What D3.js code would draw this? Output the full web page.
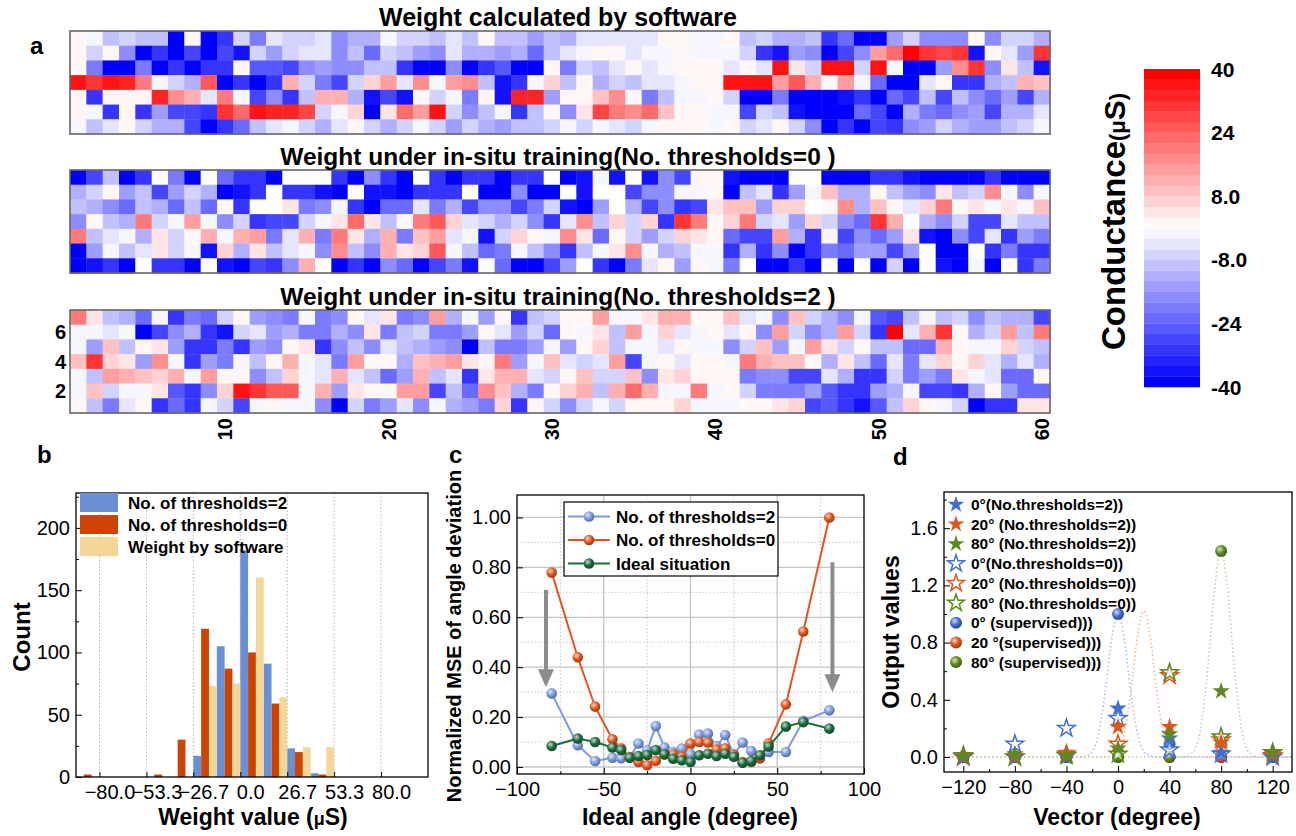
<!DOCTYPE html>
<html><head><meta charset="utf-8">
<script src="https://cdn.jsdelivr.net/npm/d3@7"></script>
<style>body{margin:0;background:#fff;} svg{display:block;font-family:"Liberation Sans",Arial,sans-serif;}</style>
</head><body><svg id="chart" width="1296" height="836"></svg>
<script>
// ---------------- DATA ----------------
const hmCols = d3.range(1, 61);
const hmRows = [7, 6, 5, 4, 3, 2, 1]; // top to bottom
const hmTitles = ["Weight calculated by software", "Weight under in-situ training(No. thresholds=0 )", "Weight under in-situ training(No. thresholds=2 )"];
// rows listed top (7) to bottom (1); 0 = blank cell
const hmSoftware = [
 [1,-1,-9,-6,-9,-9,-38,1,-38,-32,-6,-20,-4,-6,-6,-4,-18,-12,-12,-1,-6,-6,-9,-3,-9,1,-9,-9,-15,-9, -12,-4,-4,-4,-4,-4,1,1,-1,-1,1,-9,-6,-12,-12,-9,-30,-22,-38,-38,-15,-6,-18,-18,-18,1,-18,-6,-6,-12],
 [1,-6,1,-18,-38,-30,-38,-27,-38,-27,-35,-6,-14,-6,-4,-4,-18,-9,-22,-6,-9,-14,-18,-3,-12,-12,-14,-12,-22,-9, -3,-1,1,1,-3,-1,-1,1,-1,-1,-1,-6,-32,-35,-14,-18,-38,-27,-18,14,22,38,30,27,30,-35,1,-4,-14,31],
 [1,-20,-38,-38,-20,-38,-32,-38,-32,-30,1,-25,-25,-27,-18,-14,-18,-18,-9,-9,-30,-38,-38,-18,-38,-30,-25,-38,-38,1, -20,-6,-9,-4,1,-3,-1,1,1,1,-4,1,-3,37,4,-6,37,37,-6,37,-1,-38,-38,-14,18,30,-18,4,-9,-35],
 [37,30,37,34,20,-1,-6,-12,25,-38,-30,-38,-30,12,-6,-20,-27,-6,6,14,-3,18,-1,14,18,-9,-35,-30,-1,6, -9,1,-12,-6,-9,-3,-3,-1,1,1,37,37,37,14,25,12,1,14,-1,-22,-38,-38,-3,1,-30,-30,-12,-9,12,10],
 [1,-30,1,1,1,32,18,12,-3,20,-1,-27,-18,-32,-9,12,12,-12,-35,-27,-35,1,-6,-1,-20,1,-35,34,32,-14, 1,1,10,18,1,-20,-9,-1,-1,1,-6,-38,-38,-20,-38,-38,-38,-35,-30,-38,-22,-27,-9,-27,-9,-18,-22,-14,-27,-12],
 [1,-1,-32,1,-30,-14,-28,-28,-32,30,22,37,34,32,27,-6,-1,6,-38,4,22,14,37,-6,-18,-9,-1,-32,-9,1, -18,4,27,20,18,22,10,1,1,-1,-1,-27,-6,-9,-35,-38,-38,-38,-22,-27,-38,-12,-20,-22,-18,-14,-27,-12,-12,-4],
 [-1,-9,-3,1,-6,-12,-12,-27,-38,-30,-22,-9,-3,-1,-6,-12,-3,1,-6,-12,-6,-1,-6,-15,-6,-12,-14,-9,-9,-6, -1,-6,-1,-4,-6,-1,1,1,1,-1,1,-6,-4,1,-6,-18,-38,-30,-38,-27,-30,-18,-14,-6,-12,-14,-14,-9,-6,-1]
];
const hmThr0 = [
 [-40,-27,-9,-40,-30,0,-20,-40,0,-22,-32,-30,-38,0,0,0,-30,-38,-18,-32,-38,0,-30,-40,-30,-32,-38,-32,-32,0, -40,-35,-1,-35,0,-35,-18,-27,1,1,-35,-40,-40,-40,0,0,-40,-40,-40,-32,-30,-35,-40,-40,-40,-38,-30,-40,-40,-40],
 [-12,-6,1,-14,-9,-27,-14,-6,-12,-40,-35,-30,0,-32,-30,-35,-40,0,-35,-35,-40,-32,-30,-32,0,-40,-38,-18,-40,-40, 0,-35,0,0,-27,-18,-18,-1,-1,1,-38,-9,-4,-30,-14,-1,10,-12,-12,1,-9,-14,-18,4,-9,-6,18,-1,-18,-1],
 [-9,-12,-18,-22,-9,-12,-22,-9,-22,1,-32,0,0,4,-20,-18,-1,-30,-40,-22,-22,-4,-20,-12,-27,-18,-18,-28,-20,-6, -35,-40,-14,0,-12,-27,-18,-30,-27,4,10,10,-14,6,6,0,1,18,-12,10,1,-4,6,20,1,4,-1,4,-1,10],
 [-18,1,-9,-12,20,-6,-1,14,-1,-18,-6,-30,-27,-27,-6,-1,4,22,4,-9,1,20,25,6,-4,-6,-12,-6,-18,-30, -4,18,-9,6,-6,6,-30,30,20,1,6,20,-6,-4,-14,6,-6,-18,-22,30,12,0,-12,-18,-6,-27,-27,-4,-9,-9],
 [20,-9,-4,-1,-12,4,-6,1,12,-1,12,14,-20,-4,12,-20,19,4,-12,12,-19,10,14,-4,-1,-35,-6,6,1,-1, 18,4,-22,1,-6,-14,-6,6,4,1,-22,-27,-27,14,-12,-30,-1,-27,-18,-22,-14,4,-35,-38,-18,-28,-4,-32,-14,-20],
 [-40,-14,-1,-9,-4,4,-6,-1,-35,6,-12,4,-9,-4,-1,-18,18,-9,-18,12,4,6,25,-1,-9,-22,-20,-1,-9,-18, -30,-9,-1,4,18,-1,-12,-9,-1,-1,-30,-12,-32,-18,-40,-32,-20,-22,-14,-14,-27,-14,0,-40,-40,0,-30,-19,-32,-32],
 [-40,-35,-32,-38,0,-32,-32,-40,0,-35,-40,-27,-32,-18,12,0,-40,-32,-40,-18,-22,-40,-27,-20,-35,0,-22,-40,-38,-28, -14,0,-32,-40,-20,-4,1,-14,1,-1,-20,0,-40,-40,-30,-40,0,-38,0,-40,-6,-40,0,-35,-40,-1,-38,0,-30,-20]
];
const hmThr2 = [
 [19,4,-9,-12,-22,-1,-32,-20,-22,-6,1,-14,-18,-20,-1,-20,-18,1,-4,4,-20,-18,14,-12,-1,-14,1,-32,-9,-6, 1,1,14,-1,-1,4,12,12,1,1,10,-4,-1,-18,10,-6,-12,-18,-1,-25,-28,-9,-1,-9,-6,-18,-9,-12,-12,-27],
 [-1,-1,-4,-1,-38,-27,-18,-12,-30,-35,-6,-4,-14,-12,-20,-20,-12,-18,4,-20,-9,-6,-20,-19,-14,1,-4,-14,-6,-22, 1,-1,4,-9,14,-1,6,-4,-1,1,-4,1,-18,14,-6,-18,-12,15,-6,-30,38,-4,12,30,1,-12,-6,14,-9,19],
 [-1,-14,10,-9,1,4,-14,-30,-30,-20,-30,-14,-18,1,4,-30,-18,-9,-18,-4,-9,-12,-14,-18,-38,-9,-20,-20,-14,-1, -15,1,6,-9,-1,-1,-4,1,-1,-1,-18,-6,10,-14,-1,14,4,-6,1,-9,-9,-22,-22,12,1,-1,-1,6,-6,-9],
 [10,30,6,4,-14,18,-1,-32,-14,-20,-1,-9,1,12,-1,-4,-19,14,1,1,-12,10,12,14,4,1,20,-14,-1,10, -4,-6,-4,15,-27,-1,1,-4,1,1,-1,20,12,10,10,1,-12,4,-9,-22,-4,-20,-4,6,1,6,-4,-12,-4,-12],
 [-1,-9,14,12,10,6,12,-1,14,1,1,-18,-9,6,-1,-4,12,-4,-9,-22,-14,12,-9,-4,-30,4,12,12,-4,-6, 1,10,-6,-6,10,-18,4,6,1,1,1,-20,-18,-18,-27,-27,-4,-12,-30,-32,-6,-20,-14,-20,4,-1,-4,-22,-22,1],
 [-1,10,-6,-1,-1,4,-25,-31,-18,6,35,30,25,25,-1,12,-14,4,1,1,14,14,-27,-9,-22,18,10,-12,-19,1, 6,12,-9,12,22,12,-1,-1,20,-1,1,-6,-20,-20,-20,-14,-25,-30,-30,-14,-12,-1,-27,-27,-32,-12,1,-14,-22,-22],
 [1,-9,-20,-4,1,-32,-22,-32,-1,-6,-27,-1,1,-1,-1,-18,-38,-6,-20,-14,-4,-18,-1,-12,-14,-20,6,-32,1,-6, -18,-6,-1,-6,1,1,1,6,-1,-1,-1,1,1,4,6,-27,-25,-30,-35,-25,-9,6,1,-1,-6,-38,-30,-30,4,4]
];
const hmYTicks = [2, 4, 6];
const hmXTicks = [10, 20, 30, 40, 50, 60];
const cbTicks = [40, 24, 8, -8, -24, -40];
const cbLabels = ["40", "24", "8.0", "-8.0", "-24", "-40"];

// panel b
const histBinStart = [-93.33,-80,-66.67,-53.33,-40,-26.67,-13.33,0,13.33,26.67,40,53.33,66.67,80,93.33];
const histThr2 = [0,0,0,0,0,17,105,182,91,23,3,0,0,0,0];
const histThr0 = [2,0,0,2,30,119,87,100,59,20,2,0,0,0,0];
const histSoft = [0,0,0,0,0,73,75,160,64,24,24,0,0,0,0];
const histNames = ["No. of thresholds=2", "No. of thresholds=0", "Weight by software"];
const histXTicks = [-80, -53.3, -26.7, 0, 26.7, 53.3, 80];
const histYTicks = [0, 50, 100, 150, 200];

// panel c
const cAngles = [-80,-65,-55,-45,-40,-35,-30,-25,-20,-15,-10,-5,0,5,10,15,20,25,30,35,40,45,55,65,80];
const cThr2 = [0.295,0.087,0.024,0.037,0.035,0.040,0.094,0.067,0.164,0.078,0.060,0.074,0.051,0.130,0.134,0.084,0.128,0.050,0.098,0.064,0.035,0.060,0.060,0.185,0.227];
const cThr0 = [0.779,0.440,0.242,0.111,0.075,0.040,0.020,0.007,0.025,0.050,0.050,0.040,0.094,0.100,0.098,0.070,0.075,0.050,0.020,0.020,0.035,0.095,0.251,0.543,1.000];
const cIdeal = [0.084,0.114,0.100,0.078,0.068,0.037,0.044,0.048,0.068,0.051,0.033,0.027,0.020,0.047,0.053,0.044,0.053,0.041,0.017,0.024,0.047,0.082,0.162,0.180,0.154];
const cNames = ["No. of thresholds=2", "No. of thresholds=0", "Ideal situation"];
const cArrowX = [-83.3, 81.8], cArrowFrom = [0.71, 0.82], cArrowTo = [0.32, 0.30];

// panel d
const dVectors = [-120,-80,-40,0,40,80,120];
const d0Thr2  = [0,0,0,0.34,0.13,0.03,0];
const d20Thr2 = [0.01,0.01,0.03,0.21,0.21,0.10,0.02];
const d80Thr2 = [0.01,0.02,0.01,0.06,0.16,0.46,0.03];
const d0Thr0  = [0,0.09,0.20,0.27,0.05,0.02,0];
const d20Thr0 = [0,0,0.02,0.09,0.57,0.12,0.01];
const d80Thr0 = [0.01,0,0.01,0.02,0.59,0.14,0.03];
const d0Sup  = [0,0,0,1.00,0.09,0,0];
const d20Sup = [0,0,0,0,0,0,0];
const d80Sup = [0,0,0,0,0,1.44,0];
const curve0X  = [-135,-30,-22,-16,-10,-5,0,5,10,16,22,30,135];
const curve0Y  = [0,0,0.02,0.13,0.45,0.82,1.0,0.82,0.45,0.13,0.02,0,0];
const curve20X = [-135,-10,-2,4,10,15,20,25,30,36,42,50,135];
const curve20Y = [0,0,0.02,0.13,0.46,0.84,1.02,0.84,0.46,0.13,0.02,0,0];
const curve80X = [-135,50,58,64,70,75,80,85,90,96,102,110,135];
const curve80Y = [0,0,0.03,0.19,0.65,1.18,1.44,1.18,0.65,0.19,0.03,0,0];
const dNames = ["0°(No.thresholds=2))","20° (No.thresholds=2))","80° (No.thresholds=2))","0°(No.thresholds=0))","20° (No.thresholds=0))","80° (No.thresholds=0))","0° (supervised)))","20 °(supervised)))","80° (supervised)))"];
const dXTicks = [-120,-80,-40,0,40,80,120];
const dYTicks = [0,0.4,0.8,1.2,1.6];

// ---------------- DRAW ----------------
const svg = d3.select("#chart");
const defs = svg.append("defs");
const FONT = '"Liberation Sans", Arial, sans-serif';

function txt(g, x, y, s, size, opts = {}) {
  return g.append("text").attr("x", x).attr("y", y).text(s)
    .attr("font-size", size).attr("font-weight", opts.bold ? "bold" : "normal")
    .attr("text-anchor", opts.anchor || "start").attr("fill", "#000");
}

// color levels
const cbMin = -40, cbMax = 40, nLevels = 30, step = (cbMax - cbMin) / nLevels;
const levelColors = d3.range(nLevels).map(i => {
  const vc = cbMin + (i + 0.5) * step;
  const t = Math.min(1, Math.abs(vc) / (cbMax - step / 2));
  const c = Math.round(255 * (1 - t));
  return vc < 0 ? d3.rgb(c, c, 255).formatHex() : d3.rgb(255, c, c).formatHex();
});
const colorQ = d3.scaleQuantize().domain([cbMin, cbMax]).range(levelColors);
const cellColor = v => v === 0 ? "#ffffff" : colorQ(v);

// heatmaps
const hmTops = [31, 170, 310], hmH = 103;
const hx = d3.scaleBand().domain(hmCols).range([70, 1050]);
[hmSoftware, hmThr0, hmThr2].forEach((data, k) => {
  const top = hmTops[k];
  const hy = d3.scaleBand().domain(hmRows).range([top, top + hmH]);
  const g = svg.append("g");
  const cells = data.flatMap((row, i) => row.map((v, j) => ({ r: hmRows[i], c: hmCols[j], v })));
  g.selectAll("rect").data(cells).join("rect")
    .attr("x", d => hx(d.c)).attr("y", d => hy(d.r))
    .attr("width", hx.bandwidth() + 0.4).attr("height", hy.bandwidth() + 0.4)
    .attr("fill", d => cellColor(d.v));
  g.append("rect").attr("x", 70).attr("y", top).attr("width", 980).attr("height", hmH)
    .attr("fill", "none").attr("stroke", "#666").attr("stroke-width", 1.6);
  txt(svg, 558, top - 5, hmTitles[k], k === 0 ? 25 : 24.5, { bold: true, anchor: "middle" });
  if (k === 2) {
    hmYTicks.forEach(r => txt(svg, 66, hy(r) + hy.bandwidth() / 2, r, 20, { bold: true, anchor: "end" }).attr("dy", "0.36em"));
    hmXTicks.forEach(c => {
      svg.append("text").attr("transform", `translate(${hx(c) + hx.bandwidth() / 2},${top + hmH + 5}) rotate(-90)`)
        .attr("text-anchor", "end").attr("dy", "0.36em").attr("font-size", 20).attr("font-weight", "bold").text(c);
    });
  }
});
txt(svg, 30, 54, "a", 24, { bold: true });

// colorbar
const cbY = d3.scaleLinear().domain([cbMin, cbMax]).range([387, 69]);
const cbG = svg.append("g");
cbG.selectAll("rect").data(levelColors).join("rect")
  .attr("x", 1144).attr("width", 56)
  .attr("y", (d, i) => cbY(cbMin + (i + 1) * step))
  .attr("height", (d, i) => cbY(cbMin + i * step) - cbY(cbMin + (i + 1) * step) + 0.3)
  .attr("fill", d => d);
cbTicks.forEach((v, i) => txt(svg, 1211, cbY(v), cbLabels[i], 21, { bold: true }).attr("dy", "0.36em"));
{
  const t = svg.append("text").attr("transform", "translate(1125,350) rotate(-90)")
    .attr("font-weight", "bold").attr("font-size", 33);
  t.append("tspan").text("Conductance");
  t.append("tspan").attr("font-size", 22).text("(μ");
  t.append("tspan").attr("font-size", 30).text("S");
  t.append("tspan").attr("font-size", 22).text(")");
}

// ---------- Panel b ----------
{
  const L = 76, R = 428, T = 493, B = 777;
  const x = d3.scaleLinear().domain([-93.33, 106.67]).range([L, R]);
  const y = d3.scaleLinear().domain([0, 228]).range([B, T]);
  const g = svg.append("g");
  histXTicks.forEach(v => g.append("line").attr("x1", x(v)).attr("x2", x(v)).attr("y1", T).attr("y2", B)
    .attr("stroke", "#b5b5b5").attr("stroke-width", 1).attr("stroke-dasharray", "1.5,2"));
  const binW = x(13.333) - x(0);
  const colors = ["#6b8fd4", "#cc4400", "#f4d797"];
  [histThr2, histThr0, histSoft].forEach((vals, s) => {
    g.selectAll(null).data(vals.map((v, i) => ({ v, x0: histBinStart[i] }))).join("rect")
      .attr("x", d => x(d.x0) + s * binW / 3).attr("width", binW / 3)
      .attr("y", d => y(d.v)).attr("height", d => B - y(d.v))
      .attr("fill", colors[s]);
  });
  g.append("rect").attr("x", L).attr("y", T).attr("width", R - L).attr("height", B - T)
    .attr("fill", "none").attr("stroke", "#000").attr("stroke-width", 1.3);
  const ya = d3.axisLeft(y).tickValues(histYTicks).tickSize(-6).tickPadding(6);
  const yg = g.append("g").attr("transform", `translate(${L},0)`).call(ya);
  yg.select(".domain").remove();
  yg.selectAll("text").attr("font-size", 20).attr("font-family", FONT).attr("fill", "#000");
  g.append("g").attr("transform", `translate(${L},0)`)
    .call(d3.axisLeft(y).tickValues([25, 75, 125, 175, 225]).tickSize(-3).tickFormat(""))
    .select(".domain").remove();
  const xa = d3.axisBottom(x).tickValues(histXTicks).tickSize(-5).tickPadding(8).tickFormat(d3.format(".1f"));
  const xg = g.append("g").attr("transform", `translate(0,${B})`).call(xa);
  xg.select(".domain").remove();
  xg.selectAll("text").attr("font-size", 20).attr("font-family", FONT).attr("fill", "#000").attr("dx", 10);
  histNames.forEach((n, i) => {
    const yy = 493 + i * 22;
    g.append("rect").attr("x", 80).attr("y", yy).attr("width", 38).attr("height", 19).attr("fill", colors[i]);
    txt(g, 128, yy + 16, n, 17, { bold: true });
  });
  svg.append("text").attr("transform", `translate(30,637) rotate(-90)`).attr("text-anchor", "middle")
    .attr("font-size", 24).attr("font-weight", "bold").text("Count");
  const xl = svg.append("text").attr("x", 253).attr("y", 825).attr("text-anchor", "middle")
    .attr("font-size", 23).attr("font-weight", "bold");
  xl.append("tspan").text("Weight value (");
  xl.append("tspan").attr("font-size", 18).text("μ");
  xl.append("tspan").text("S)");
  txt(svg, 37, 463, "b", 24, { bold: true });
}

function ballGrad(id, base) {
  const gr = defs.append("radialGradient").attr("id", id).attr("cx", "38%").attr("cy", "35%").attr("r", "65%");
  gr.append("stop").attr("offset", "0%").attr("stop-color", d3.interpolateRgb(base, "#fff")(0.75));
  gr.append("stop").attr("offset", "55%").attr("stop-color", base);
  gr.append("stop").attr("offset", "100%").attr("stop-color", d3.interpolateRgb(base, "#000")(0.3));
}

// ---------- Panel c ----------
{
  const L = 517, R = 864, T = 495, B = 774;
  const x = d3.scaleLinear().domain([-100, 100]).range([L, R]);
  const y = d3.scaleLinear().domain([-0.028, 1.09]).range([B, T]);
  const g = svg.append("g");
  [0.1, 0.3, 0.5, 0.7, 0.9].forEach(v => g.append("line").attr("x1", L).attr("x2", R).attr("y1", y(v)).attr("y2", y(v))
    .attr("stroke", "#c8c8c8").attr("stroke-dasharray", "1.5,2"));
  [-75, -25, 25, 75].forEach(v => g.append("line").attr("x1", x(v)).attr("x2", x(v)).attr("y1", T).attr("y2", B)
    .attr("stroke", "#c8c8c8").attr("stroke-dasharray", "1.5,2"));
  [0, 0.2, 0.4, 0.6, 0.8, 1.0].forEach(v => g.append("line").attr("x1", L).attr("x2", R).attr("y1", y(v)).attr("y2", y(v))
    .attr("stroke", "#c4c4c4").attr("stroke-width", 1.3));
  [-50, 0, 50].forEach(v => g.append("line").attr("x1", x(v)).attr("x2", x(v)).attr("y1", T).attr("y2", B)
    .attr("stroke", "#c4c4c4").attr("stroke-width", 1.3));
  g.append("rect").attr("x", L).attr("y", T).attr("width", R - L).attr("height", B - T)
    .attr("fill", "none").attr("stroke", "#000").attr("stroke-width", 1.3);
  const yg = g.append("g").attr("transform", `translate(${L},0)`)
    .call(d3.axisLeft(y).tickValues([0, 0.2, 0.4, 0.6, 0.8, 1.0]).tickSize(-6).tickPadding(6).tickFormat(d3.format(".2f")));
  yg.select(".domain").remove();
  yg.selectAll("text").attr("font-size", 20).attr("font-family", FONT).attr("fill", "#000");
  const xg = g.append("g").attr("transform", `translate(0,${B})`)
    .call(d3.axisBottom(x).tickValues([-100, -50, 0, 50, 100]).tickSize(-6).tickPadding(8));
  xg.select(".domain").remove();
  xg.selectAll("text").attr("font-size", 20).attr("font-family", FONT).attr("fill", "#000");
  g.append("g").attr("transform", `translate(0,${B})`)
    .call(d3.axisBottom(x).tickValues([-75, -25, 25, 75]).tickSize(-3).tickFormat("")).select(".domain").remove();

  const cols = ["#7b9be0", "#e2561e", "#1d6b3b"];
  cols.forEach((c, i) => ballGrad("cball" + i, c));
  const line = d3.line().x(d => x(d[0])).y(d => y(d[1]));
  [cThr2, cThr0, cIdeal].forEach((vals, i) => {
    const pts = cAngles.map((a, k) => [a, vals[k]]);
    g.append("path").attr("d", line(pts)).attr("fill", "none").attr("stroke", cols[i]).attr("stroke-width", 2);
    g.selectAll(null).data(pts).join("circle").attr("cx", d => x(d[0])).attr("cy", d => y(d[1])).attr("r", 5.3)
      .attr("fill", `url(#cball${i})`);
  });
  cArrowX.forEach((ax, i) => {
    const X = x(ax), Y1 = y(cArrowFrom[i]), Y2 = y(cArrowTo[i]);
    g.append("line").attr("x1", X).attr("x2", X).attr("y1", Y1).attr("y2", Y2 - 16)
      .attr("stroke", "#8c8c8c").attr("stroke-width", 4);
    g.append("path").attr("d", `M${X - 8},${Y2 - 18} L${X + 8},${Y2 - 18} L${X},${Y2} Z`).attr("fill", "#8c8c8c");
  });
  g.append("rect").attr("x", 564).attr("y", 502).attr("width", 214).attr("height", 74)
    .attr("fill", "#fff").attr("stroke", "#000").attr("stroke-width", 1.2);
  cNames.forEach((n, i) => {
    const yy = 516.5 + i * 23.5;
    g.append("line").attr("x1", 568).attr("x2", 610).attr("y1", yy).attr("y2", yy).attr("stroke", cols[i]).attr("stroke-width", 2);
    g.append("circle").attr("cx", 589).attr("cy", yy).attr("r", 5.3).attr("fill", `url(#cball${i})`);
    txt(g, 616, yy + 6, n, 17, { bold: true });
  });
  svg.append("text").attr("transform", `translate(461,636) rotate(-90)`).attr("text-anchor", "middle")
    .attr("font-size", 20).attr("font-weight", "bold").text("Normalized MSE of angle deviation");
  txt(svg, 690, 825, "Ideal angle (degree)", 23, { bold: true, anchor: "middle" });
  txt(svg, 449, 463, "c", 24, { bold: true });
}

// ---------- Panel d ----------
{
  const L = 944, R = 1292, T = 492, B = 772;
  const x = d3.scaleLinear().domain([-135, 135]).range([L, R]);
  const y = d3.scaleLinear().domain([-0.105, 1.853]).range([B, T]);
  const g = svg.append("g");
  const cols = ["#3f6fd0", "#e0561b", "#5b8a1e"];
  const curveCols = ["#a9bcec", "#f2b497", "#c3d0a6"];
  cols.forEach((c, i) => ballGrad("dball" + i, c));
  const curveLine = d3.line().x(d => x(d[0])).y(d => y(d[1])).curve(d3.curveMonotoneX);
  [[curve0X, curve0Y], [curve20X, curve20Y], [curve80X, curve80Y]].forEach(([cx, cy], i) => {
    g.append("path").attr("d", curveLine(cx.map((v, k) => [v, cy[k]]))).attr("fill", "none")
      .attr("stroke", curveCols[i]).attr("stroke-width", 1.6).attr("stroke-dasharray", "1.5,2.5");
  });
  g.append("rect").attr("x", L).attr("y", T).attr("width", R - L).attr("height", B - T)
    .attr("fill", "none").attr("stroke", "#000").attr("stroke-width", 1.3);
  const yg = g.append("g").attr("transform", `translate(${L},0)`)
    .call(d3.axisLeft(y).tickValues(dYTicks).tickSize(-6).tickPadding(6).tickFormat(d3.format(".1f")));
  yg.select(".domain").remove();
  yg.selectAll("text").attr("font-size", 20).attr("font-family", FONT).attr("fill", "#000");
  g.append("g").attr("transform", `translate(${L},0)`)
    .call(d3.axisLeft(y).tickValues([0.2, 0.6, 1.0, 1.4, 1.8]).tickSize(-3).tickFormat("")).select(".domain").remove();
  const xg = g.append("g").attr("transform", `translate(0,${B})`)
    .call(d3.axisBottom(x).tickValues(dXTicks).tickSize(-6).tickPadding(8));
  xg.select(".domain").remove();
  xg.selectAll("text").attr("font-size", 20).attr("font-family", FONT).attr("fill", "#000");
  g.append("g").attr("transform", `translate(0,${B})`)
    .call(d3.axisBottom(x).tickValues([-100, -60, -20, 20, 60, 100]).tickSize(-3).tickFormat("")).select(".domain").remove();

  const star = d3.symbol(d3.symbolStar).size(95)();
  const starL = d3.symbol(d3.symbolStar).size(88)();
  [d0Sup, d20Sup, d80Sup].forEach((vals, i) => {
    g.selectAll(null).data(vals.map((v, k) => [dVectors[k], v])).join("circle")
      .attr("cx", d => x(d[0])).attr("cy", d => y(d[1])).attr("r", 6).attr("fill", `url(#dball${i})`);
  });
  [d0Thr0, d20Thr0, d80Thr0].forEach((vals, i) => {
    g.selectAll(null).data(vals.map((v, k) => [dVectors[k], v])).join("path").attr("d", star)
      .attr("transform", d => `translate(${x(d[0])},${y(d[1])})`)
      .attr("fill", "#fff").attr("fill-opacity", 0.6).attr("stroke", cols[i]).attr("stroke-width", 1.5);
  });
  [d0Thr2, d20Thr2, d80Thr2].forEach((vals, i) => {
    g.selectAll(null).data(vals.map((v, k) => [dVectors[k], v])).join("path").attr("d", star)
      .attr("transform", d => `translate(${x(d[0])},${y(d[1])})`).attr("fill", cols[i]);
  });
  dNames.forEach((n, i) => {
    const yy = 504.5 + i * 19.7;
    const ci = i % 3;
    if (i < 3) g.append("path").attr("d", starL).attr("transform", `translate(956,${yy})`).attr("fill", cols[ci]);
    else if (i < 6) g.append("path").attr("d", starL).attr("transform", `translate(956,${yy})`).attr("fill", "#fff")
      .attr("stroke", cols[ci]).attr("stroke-width", 1.5);
    else g.append("circle").attr("cx", 956).attr("cy", yy).attr("r", 6).attr("fill", `url(#dball${ci})`);
    txt(g, 971, yy + 5.5, n, 15.5, { bold: true });
  });
  svg.append("text").attr("transform", `translate(899,632) rotate(-90)`).attr("text-anchor", "middle")
    .attr("font-size", 23).attr("font-weight", "bold").text("Output values");
  txt(svg, 1117, 825, "Vector (degree)", 23, { bold: true, anchor: "middle" });
  txt(svg, 893, 465, "d", 24, { bold: true });
}
</script></body></html>
